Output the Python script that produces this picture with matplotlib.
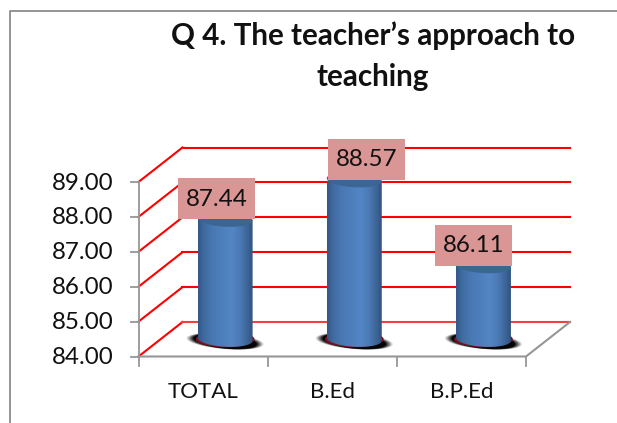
import numpy as np
import matplotlib
matplotlib.use("Agg")
import matplotlib.pyplot as plt
from matplotlib.lines import Line2D
from matplotlib.patches import Ellipse, Polygon, Rectangle

plt.rcParams['font.family'] = ['Lato', 'DejaVu Sans']

categories = ["TOTAL", "B.Ed", "B.P.Ed"]
values = [87.44, 88.57, 86.11]
y_ticks = [84, 85, 86, 87, 88, 89]
title = "Q 4. The teacher\u2019s approach to\nteaching"

W, H = 617, 423
fig = plt.figure(figsize=(W / 100, H / 100), dpi=100)
# front plane of the fake 3d box, in pixels
x0, x1, y0, y1 = 138.5, 526.0, 356.5, 182.0
ax = fig.add_axes([x0 / W, 1 - y0 / H, (x1 - x0) / W, (y0 - y1) / H])
ax.set_xlim(-0.5, 2.5)
ax.set_ylim(84, 89)
ax.axis("off")

px_x = 3 / (x1 - x0)      # one pixel in x units
px_y = 5 / (y0 - y1)      # one pixel in y units
dx = 44 * px_x            # depth of the box
dy = 34.5 * px_y
GREY = "#969696"
RED = "#ff0000"

# outer chart frame
fig.add_artist(Line2D([10 / W, 10 / W, 1], [0, 1 - 11 / H, 1 - 11 / H], color="#8c8c8c", lw=1.3))

# red gridlines on wall
for t in y_ticks:
    c = RED if t > 84 else "#f04040"
    ax.plot([-0.5, -0.5 + dx], [t, t + dy], color=RED, lw=1.5, clip_on=False, zorder=1)
    ax.plot([-0.5 + dx, 2.5 + dx], [t + dy, t + dy], color=c, lw=1.5, clip_on=False, zorder=1)

# floor and axes
ax.plot([-0.5, -0.5], [84, 89], color=GREY, lw=1.3, clip_on=False, zorder=2)
ax.plot([-0.5, 2.5, 2.5 + dx], [84, 84, 84 + dy], color=GREY, lw=1.5, clip_on=False, zorder=2)
for t in y_ticks:
    ax.plot([-0.5 - 8 * px_x, -0.5], [t, t], color=GREY, lw=1.3, clip_on=False, zorder=2)
    ax.text(-0.5 - 25 * px_x, t - 1 * px_y, "%.2f" % t, ha="right", va="center", fontsize=17.4, color="#111111")
for b in [-0.5, 0.5, 1.5, 2.5]:
    ax.plot([b, b], [84, 84 - 9 * px_y], color=GREY, lw=1.3, clip_on=False, zorder=2)
for i, c in enumerate(categories):
    ax.text(i, 84 - 35 * px_y, c, ha="center", va="center", fontsize=16, color="#111111")

# cylinders
hw = 27.5 * px_x
hh = 7.5 * px_y
tilt = -1.5
label_off = [-8.5, 12, -9.5]
grad = np.array([0.0, 0.12, 0.3, 0.5, 0.62, 0.78, 0.92, 1.0])
cols = np.array([[0x33, 0x58, 0x88], [0x41, 0x6c, 0xa3], [0x4a, 0x7a, 0xb6], [0x4f, 0x81, 0xbf],
                 [0x53, 0x86, 0xc6], [0x4a, 0x78, 0xb2], [0x3b, 0x62, 0x94], [0x30, 0x52, 0x7e]]) / 255
u = np.linspace(0, 1, 120)
img = np.stack([np.interp(u, grad, cols[:, k]) for k in range(3)], axis=1)[None, :, :]
th = np.linspace(0, 2 * np.pi, 80)

for i, v in enumerate(values):
    cx = i + dx / 2
    base = 84 + dy / 2
    top = v + dy / 2
    # shadow under the bar
    for s, a in zip([1.4, 1.34, 1.28, 1.22, 1.16], [0.15, 0.25, 0.35, 0.5, 0.9]):
        shadow = np.c_[cx + np.cos(th) * hw * s, base - 2 * px_y + np.sin(th) * hh * (0.62 + s * 0.3)
                       + np.cos(th) * 2 * tilt * px_y]
        ax.add_patch(Polygon(shadow, closed=True, fc="black", ec="none", alpha=a, zorder=3, clip_on=False))
    ax.add_patch(Ellipse((cx, base), 2 * hw * 1.07, 2 * hh * 1.08, fc="#7a1020", ec="none", zorder=3))

    # body outline, gradient clipped to it
    xs = np.linspace(-1, 1, 60)
    lower = -np.sqrt(1 - xs ** 2) * hh + xs * tilt * px_y
    upper = np.sqrt(1 - xs ** 2) * hh + xs * tilt * px_y
    body = np.r_[np.c_[cx + xs * hw, base + lower], np.c_[cx + xs[::-1] * hw, top + upper[::-1]]]
    im = ax.imshow(img, extent=[cx - hw, cx + hw, 84, 90], aspect="auto", zorder=4, interpolation="bilinear")
    im.set_clip_path(Polygon(body, closed=True, transform=ax.transData))
    # lid
    lid = np.c_[cx + np.cos(th) * hw, top + np.sin(th) * hh + np.cos(th) * tilt * px_y]
    ax.add_patch(Polygon(lid, closed=True, fc="#3c6594", ec="none", zorder=5, clip_on=False))

    # value label
    lx = cx + label_off[i] * px_x
    ax.add_patch(Rectangle((lx - 38.5 * px_x, top), 77 * px_x, 41 * px_y, fc="#d99694", ec="none", zorder=6, clip_on=False))
    ax.text(lx, top + 20 * px_y, "%.2f" % v, ha="center", va="center", fontsize=17.4, color="#111111", zorder=7)

ax.set_xlim(-0.5, 2.5)
ax.set_ylim(84, 89)

fig.text(373 / W, 1 - 56 / H, title, ha="center", va="center", fontsize=21.3, fontweight="bold", color="#111111",
         linespacing=1.55)

fig.savefig("out.png", dpi=100, facecolor="white")
